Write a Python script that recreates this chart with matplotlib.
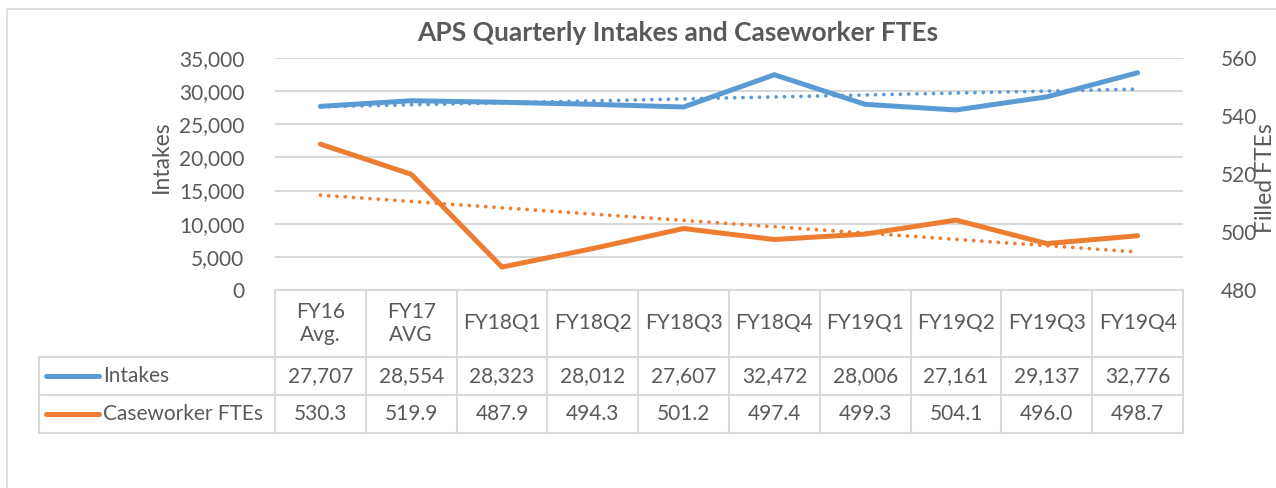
import matplotlib.pyplot as plt
import matplotlib.transforms as mtransforms
from matplotlib.patches import Rectangle
from matplotlib.lines import Line2D
import numpy as np

# Dane
categories = ["FY16\nAvg.", "FY17\nAVG", "FY18Q1", "FY18Q2", "FY18Q3",
              "FY18Q4", "FY19Q1", "FY19Q2", "FY19Q3", "FY19Q4"]
intakes = [27707, 28554, 28323, 28012, 27607, 32472, 28006, 27161, 29137, 32776]
ftes = [530.3, 519.9, 487.9, 494.3, 501.2, 497.4, 499.3, 504.1, 496.0, 498.7]
series_names = ["Intakes", "Caseworker FTEs"]

blue = "#5B9BD5"
orange = "#ED7D31"
txt = "#595959"
grid = "#D9D9D9"
fs = 15

W, H = 1276, 488
plt.rcParams['font.family'] = ['Lato', 'DejaVu Sans']

fig = plt.figure(figsize=(W / 100, H / 100), dpi=100)

def fx(px):
    return px / W

def fy(py):
    return 1 - py / H

# ramka wykresu
fig.patches.append(Rectangle((fx(7), fy(600)), fx(1400), fy(9) - fy(600),
                             transform=fig.transFigure, fill=False,
                             edgecolor=grid, linewidth=1.2))

ax = fig.add_axes([fx(275), fy(290), fx(1183) - fx(275), fy(58) - fy(290)])
ax2 = ax.twinx()
x = np.arange(len(categories))

ax.set_xlim(-0.5, len(categories) - 0.5)
ax.set_ylim(0, 35000)
ax.set_yticks(np.arange(0, 35001, 5000))
ax.set_yticklabels([f"{v:,}" for v in range(0, 35001, 5000)])
ax2.set_ylim(480, 560)
ax2.set_yticks(np.arange(480, 561, 20))
ax.set_xticks([])

for a in (ax, ax2):
    for s in a.spines.values():
        s.set_visible(False)
    a.tick_params(axis='y', length=0, labelsize=fs, labelcolor=txt)
ax.tick_params(axis='y', pad=22)
ax2.tick_params(axis='y', pad=27)

for v in range(0, 35001, 5000):
    ax.axhline(v, color=grid, linewidth=1.5, zorder=0)

# linie danych
ax.plot(x, intakes, color=blue, linewidth=3.6, solid_capstyle='round', zorder=3)
ax2.plot(x, ftes, color=orange, linewidth=3.6, solid_capstyle='round', zorder=3)

# linie trendu
p1 = np.polyfit(x, intakes, 1)
p2 = np.polyfit(x, ftes, 1)
ax.plot(x, np.polyval(p1, x), color=blue, linewidth=2.7,
        linestyle=(0, (0.01, 2.2)), dash_capstyle='round', zorder=4)
ax2.plot(x, np.polyval(p2, x), color=orange, linewidth=2.7,
         linestyle=(0, (0.01, 2.2)), dash_capstyle='round', zorder=4)

fig.text(fx(678), fy(33), "APS Quarterly Intakes and Caseworker FTEs",
         ha='center', va='center', fontsize=19, fontweight='bold', color=txt)
fig.text(fx(161), fy(157), "Intakes", rotation=90, ha='center', va='center',
         fontsize=16.5, color=txt)
fig.text(fx(1266), fy(178), "Filled FTEs", rotation=90, ha='center', va='center',
         fontsize=16.5, color=txt)

# tabela danych
tr = mtransforms.blended_transform_factory(ax.transData, fig.transFigure)
tf = fig.transFigure
y_top, y_h, y_r1, y_r2 = 290, 357, 395, 433
lc = dict(color=grid, linewidth=1.5, clip_on=False)

fig.add_artist(Line2D([fx(275), fx(1183)], [fy(y_top)] * 2, transform=tf, **lc))
for yy in (y_h, y_r1, y_r2):
    fig.add_artist(Line2D([fx(39), fx(1183)], [fy(yy)] * 2, transform=tf, **lc))
fig.add_artist(Line2D([fx(39), fx(39)], [fy(y_h), fy(y_r2)], transform=tf, **lc))
for i in range(len(categories) + 1):
    fig.add_artist(Line2D([i - 0.5, i - 0.5], [fy(y_top), fy(y_r2)], transform=tr, **lc))

for i, c in enumerate(categories):
    fig.text(i, fy((y_top + y_h) / 2), c, transform=tr, ha='center', va='center',
             fontsize=fs, color=txt, linespacing=1.2)
    fig.text(i, fy((y_h + y_r1) / 2), f"{intakes[i]:,}", transform=tr, ha='center',
             va='center', fontsize=fs, color=txt)
    fig.text(i, fy((y_r1 + y_r2) / 2), f"{ftes[i]:.1f}", transform=tr, ha='center',
             va='center', fontsize=fs, color=txt)

for name, col, (a, b) in zip(series_names, (blue, orange), ((y_h, y_r1), (y_r1, y_r2))):
    yc = fy((a + b) / 2)
    fig.add_artist(Line2D([fx(46), fx(99)], [yc, yc], transform=tf, color=col,
                          linewidth=3.6, solid_capstyle='round'))
    fig.text(fx(103), yc, name, ha='left', va='center', fontsize=fs, color=txt)

fig.savefig("out.png", dpi=100)
